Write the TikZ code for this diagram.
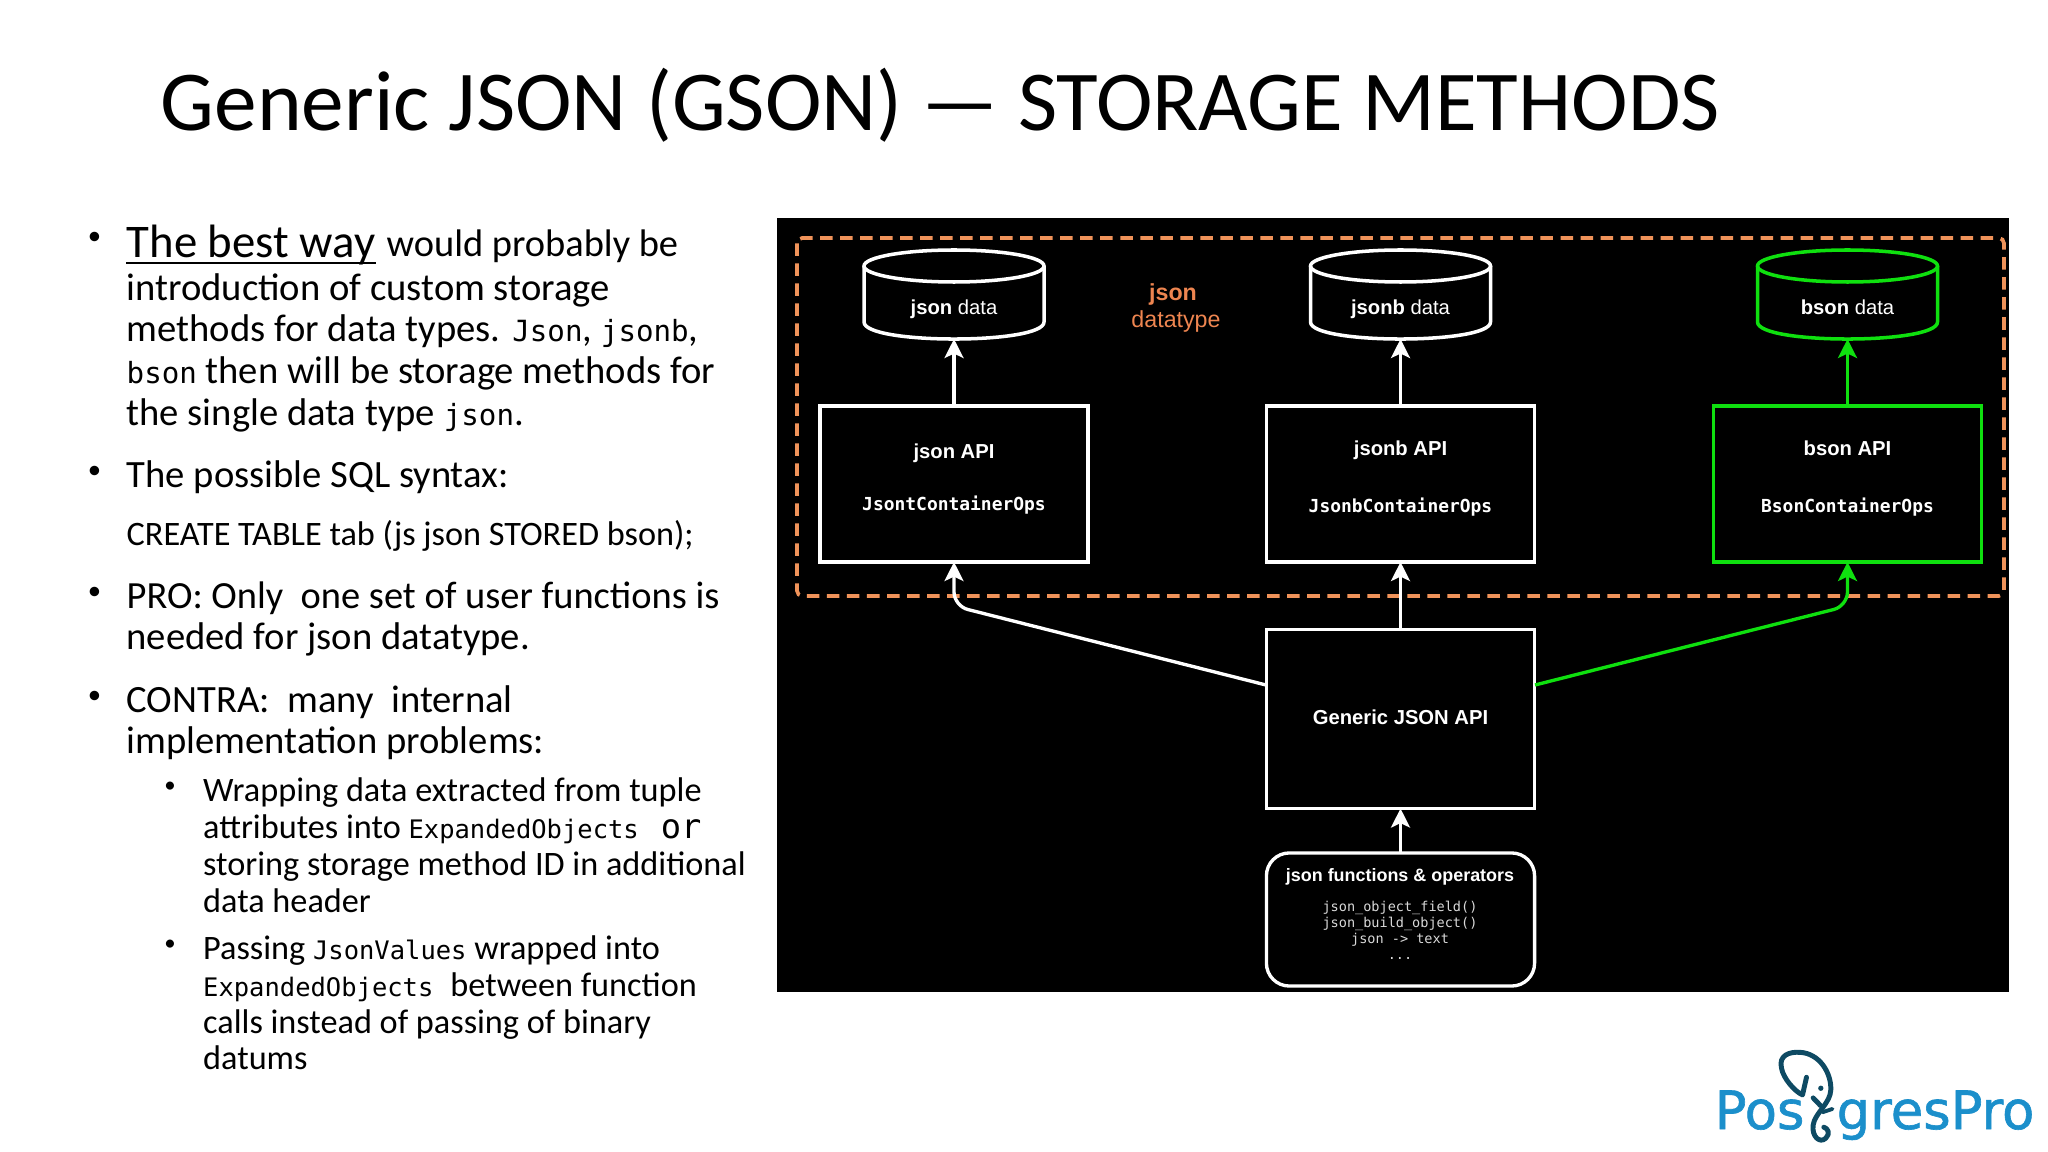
\documentclass[tikz,border=0pt]{standalone}
\usepackage{fontspec}
\setmainfont{Carlito}
\setsansfont{Liberation Sans}
\setmonofont{DejaVu Sans Mono}
\newfontfamily\logofont[FakeBold=1.2]{DejaVu Sans}
\definecolor{dashorange}{HTML}{F0935A}
\definecolor{textorange}{HTML}{EE8550}
\definecolor{apigreen}{HTML}{0FE00F}
\definecolor{logoblue}{HTML}{1B8FCB}
\definecolor{logoteal}{HTML}{0E4A63}
\usetikzlibrary{arrows.meta}
\newcommand{\bodymono}{\ttfamily\fontsize{8.3pt}{9pt}\selectfont}
\newcommand{\submono}{\ttfamily\fontsize{7.25pt}{9pt}\selectfont}
\newcommand{\drumshape}[2]{% colour, centre x
	\draw [#1,line width=1pt,line join=round] ({#2-90},266) -- ({#2-90},322) .. controls ({#2-90},344.7) and ({#2+90},344.7) .. ({#2+90},322) -- ({#2+90},266);
	\draw [#1,line width=1pt] (#2,266) ellipse (90 and 16);
}
\tikzset{
	bodyline/.style={anchor=base west,inner sep=0pt,font=\fontsize{10.98pt}{13pt}\selectfont},
	tightline/.style={anchor=base west,inner sep=0pt,font=\fontsize{10.93pt}{13pt}\selectfont},
	subline/.style={anchor=base west,inner sep=0pt,font=\fontsize{9.74pt}{12pt}\selectfont},
	bodybullet/.style={anchor=base,inner sep=0pt,font=\fontsize{7.6pt}{9pt}\selectfont},
	subbullet/.style={anchor=base,inner sep=0pt,font=\fontsize{6.5pt}{7pt}\selectfont},
	apibox/.style={rectangle,draw=#1,line width=0.95pt,inner sep=0pt,outer sep=0pt,fill=black,minimum width=2.68cm},
	drum/.style={rectangle,inner sep=0pt,outer sep=0pt,minimum width=1.8cm,minimum height=0.91cm},
	arrowline/.style={draw=#1,line width=0.95pt,rounded corners=4pt,-{Stealth[length=0.19cm,width=0.19cm,inset=0.045cm]}},
	boxtext/.style={anchor=base,inner sep=0pt,text=white,font=\sffamily\fontsize{5.75pt}{7pt}\selectfont},
	boxbold/.style={anchor=base,inner sep=0pt,text=white,font=\sffamily\bfseries\fontsize{5.75pt}{7pt}\selectfont},
	opstext/.style={anchor=base,inner sep=0pt,text=white,font=\ttfamily\bfseries\fontsize{5.1pt}{6pt}\selectfont},
	functext/.style={anchor=base,inner sep=0pt,text=white!85!black,font=\ttfamily\fontsize{3.85pt}{5pt}\selectfont},
	logotext/.style={anchor=base west,inner sep=0pt,text=logoblue,font=\logofont\fontsize{15pt}{16pt}\selectfont},
}
\begin{document}
\begin{tikzpicture}[x=0.01cm,y=-0.01cm]
	\useasboundingbox (0,0) rectangle (2048,1152);
	\fill [white] (0,0) rectangle (2048,1152);
	\node [anchor=base west,inner sep=0pt,font=\fontsize{24.26pt}{29pt}\selectfont] (title) at (160,131) {Generic JSON (GSON) --- STORAGE METHODS};

	% left column
	\node [bodybullet] (b1) at (94.5,245) {•};
	\node [anchor=base west,inner sep=0pt,font=\fontsize{13.3pt}{16pt}\selectfont] (l1) at (126,258) {The best way};
	\draw [line width=0.8pt] ([yshift=-0.05cm]l1.base west) -- ([yshift=-0.05cm]l1.base east);
	\node [tightline] (l1b) at (386,257) {would probably be};
	\node [bodyline] (l2) at (126,300.5) {introduction of custom storage};
	\node [bodyline] (l3) at (126,342) {methods for data types. {\bodymono Json}, {\bodymono jsonb},};
	\node [bodyline] (l4) at (126,384) {{\bodymono bson} then will be storage methods for};
	\node [bodyline] (l5) at (126,425.5) {the single data type {\bodymono json}.};
	\node [bodybullet] (b2) at (94.5,479) {•};
	\node [bodyline] (l6) at (126,487.5) {The possible SQL syntax:};
	\node [subline] (l7) at (126,545) {CREATE TABLE tab (js json STORED bson);};
	\node [bodybullet] (b3) at (94.5,599.5) {•};
	\node [tightline] (l8) at (126,608.5) {PRO: Only\ \ one set of user functions is};
	\node [bodyline] (l9) at (126,649.5) {needed for json datatype.};
	\node [bodybullet] (b4) at (94.5,703.5) {•};
	\node [bodyline] (l10) at (126,712) {CONTRA:\ \ many\ \ internal};
	\node [bodyline] (l11) at (126,753) {implementation problems:};
	\node [subbullet] (b5) at (170,792) {•};
	\node [subline] (s1) at (202.5,801) {Wrapping data extracted from tuple};
	\node [subline] (s2) at (202.5,838) {attributes into {\submono ExpandedObjects}\hspace{0.22cm}{\ttfamily\fontsize{9.6pt}{10pt}\selectfont or}};
	\node [subline] (s3) at (202.5,875) {storing storage method ID in additional};
	\node [subline] (s4) at (202.5,912) {data header};
	\node [subbullet] (b6) at (170,950) {•};
	\node [subline] (s5) at (202.5,959) {Passing {\submono JsonValues} wrapped into};
	\node [subline] (s6) at (202.5,996) {{\submono ExpandedObjects}\hspace{0.17cm}between function};
	\node [subline] (s7) at (202.5,1033) {calls instead of passing of binary};
	\node [subline] (s8) at (202.5,1069) {datums};

	% black panel
	\fill [black] (777,218) rectangle (2009,992);
	\draw [dashorange,line width=1.05pt,rounded corners=1.5pt,dash pattern=on 0.125cm off 0.075cm] (797,238) rectangle (2004,596);
	\node [boxtext,text=textorange,font=\sffamily\bfseries\fontsize{6.6pt}{8pt}\selectfont] (jsonword) at (1173,301) {json};
	\node [boxtext,text=textorange,font=\sffamily\fontsize{6.6pt}{8pt}\selectfont] (datatypeword) at (1176,328) {datatype};

	\node [drum] (jsondata) at (954,293.5) {};
	\node [drum] (jsonbdata) at (1400.5,293.5) {};
	\node [drum] (bsondata) at (1847.5,293.5) {};
	\drumshape{white}{954}
	\drumshape{white}{1400.5}
	\drumshape{apigreen}{1847.5}
	\node [boxtext] (jsonlabel) at (954,314.5) {\textbf{json} data};
	\node [boxtext] (jsonblabel) at (1400.5,314.5) {\textbf{jsonb} data};
	\node [boxtext] (bsonlabel) at (1847.5,314.5) {\textbf{bson} data};

	\node [apibox=white,minimum height=1.56cm] (jsonapi) at (954,484) {};
	\node [apibox=white,minimum height=1.56cm] (jsonbapi) at (1400.5,484) {};
	\node [apibox=apigreen,minimum height=1.56cm] (bsonapi) at (1847.5,484) {};
	\node [boxbold] (jsontitle) at (954,458.5) {json API};
	\node [opstext] (jsonops) at (954,511) {JsontContainerOps};
	\node [boxbold] (jsonbtitle) at (1400.5,455.5) {jsonb API};
	\node [opstext] (jsonbops) at (1400.5,512) {JsonbContainerOps};
	\node [boxbold] (bsontitle) at (1847.5,455.5) {bson API};
	\node [opstext] (bsonops) at (1847.5,512) {BsonContainerOps};

	\node [apibox=white,minimum height=1.79cm] (genericapi) at (1400.5,719) {};
	\node [boxbold] (generictitle) at (1400.5,725) {Generic JSON API};
	\node [apibox=white,rounded corners=6.5pt,minimum height=1.33cm] (funcbox) at (1400.5,919.5) {};
	\node [boxbold,font=\sffamily\bfseries\fontsize{5.1pt}{6pt}\selectfont] (functitle) at (1400,881) {json functions \& operators};
	\node [functext] (func1) at (1400,911) {json\_object\_field()};
	\node [functext] (func2) at (1400,927) {json\_build\_object()};
	\node [functext] (func3) at (1400,943) {json -> text};
	\node [functext] (func4) at (1400,959.5) {...};

	\coordinate (leftout) at (1266,685);
	\coordinate (leftbend) at (954,606);
	\coordinate (rightout) at (1535,685);
	\coordinate (rightbend) at (1847.5,606);
	\draw [arrowline=white] (jsonapi.north) -- (jsondata.south);
	\draw [arrowline=white] (jsonbapi.north) -- (jsonbdata.south);
	\draw [arrowline=apigreen] (bsonapi.north) -- (bsondata.south);
	\draw [arrowline=white] (genericapi.north) -- (jsonbapi.south);
	\draw [arrowline=white] (funcbox.north) -- (genericapi.south);
	\draw [arrowline=white] (leftout) -- (leftbend) -- (jsonapi.south);
	\draw [arrowline=apigreen] (rightout) -- (rightbend) -- (bsonapi.south);

	% logo
	\node [logotext] (logopos) at (1714,1129) {Pos};
	\node [logotext] (logogres) at (1836,1129) {gresPro};
	\begin{scope}[shift={(1700,1040)},x=0.00333cm,y=-0.00333cm]
		\draw [logoteal,line width=1.4pt,line cap=round,line join=round] (320,112) -- (308,165) .. controls (285,155) and (250,115) .. (245,85) .. controls (235,45) and (270,35) .. (300,37) .. controls (360,40) and (395,100) .. (393,150) .. controls (392,190) and (345,220) .. (340,255) .. controls (335,290) and (360,312) .. (378,295) .. controls (392,282) and (385,265) .. (372,262);
		\draw [logoteal,line width=1.4pt,line cap=round] (340,174) -- (362,197);
		\draw [logoteal,line width=1.1pt,line cap=round] (368,217) -- (398,207);
		\fill [logoteal] (363,145) circle (8);
	\end{scope}
\end{tikzpicture}
\end{document}
